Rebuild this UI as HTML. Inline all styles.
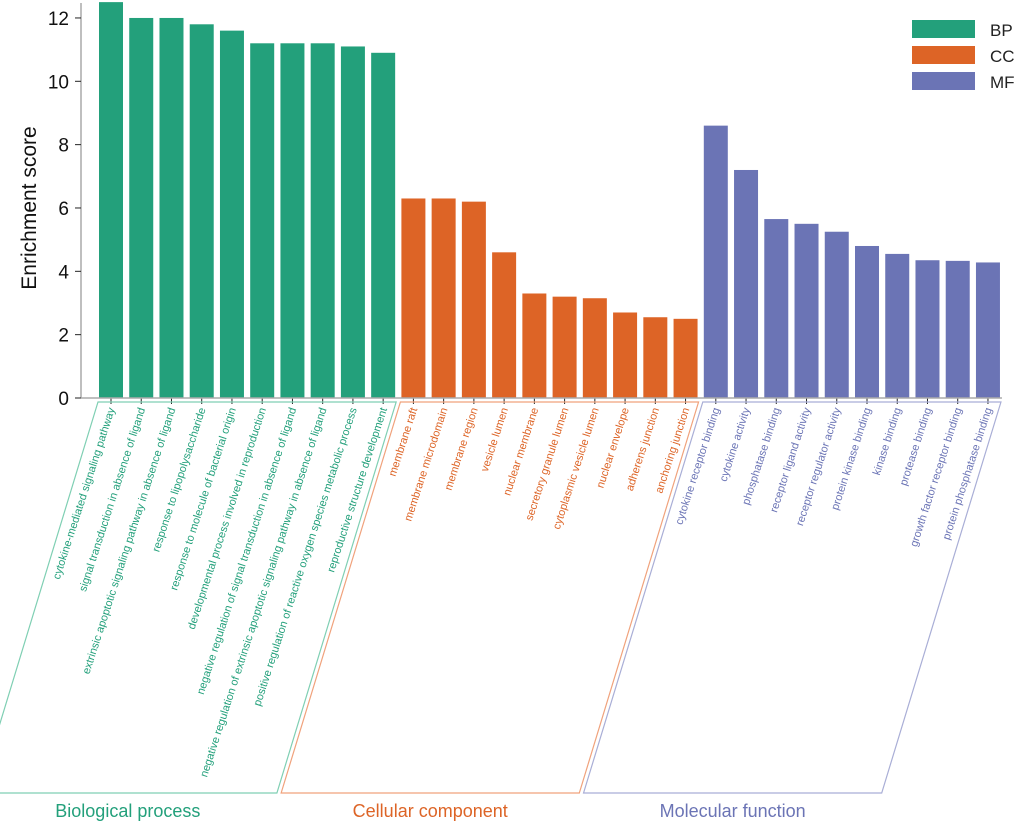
<!DOCTYPE html>
<html><head><meta charset="utf-8"><style>
body{margin:0;background:#fff;}
svg{display:block;font-family:"Liberation Sans",Arial,sans-serif;}
</style></head><body>
<svg id="chart" width="1020" height="825" viewBox="0 0 1020 825">
<g id="bars"></g>
<g id="axes"></g>
<g id="labels"></g>
<g id="groups"></g>
<text x="36" y="208" font-size="21" fill="#111" text-anchor="middle" transform="rotate(-90 36 208)">Enrichment score</text>
<g>
<rect x="912" y="20" width="63" height="18" fill="#23a07b"/>
<text x="990" y="36" font-size="17" fill="#222">BP</text>
<rect x="912" y="46" width="63" height="18" fill="#dd6426"/>
<text x="990" y="62" font-size="17" fill="#222">CC</text>
<rect x="912" y="72" width="63" height="18" fill="#6b74b5"/>
<text x="990" y="88" font-size="17" fill="#222">MF</text>
</g>
</svg>
<script>
const categories = ["cytokine-mediated signaling pathway","signal transduction in absence of ligand","extrinsic apoptotic signaling pathway in absence of ligand","response to lipopolysaccharide","response to molecule of bacterial origin","developmental process involved in reproduction","negative regulation of signal transduction in absence of ligand","negative regulation of extrinsic apoptotic signaling pathway in absence of ligand","positive regulation of reactive oxygen species metabolic process","reproductive structure development",
"membrane raft","membrane microdomain","membrane region","vesicle lumen","nuclear membrane","secretory granule lumen","cytoplasmic vesicle lumen","nuclear envelope","adherens junction","anchoring junction",
"cytokine receptor binding","cytokine activity","phosphatase binding","receptor ligand activity","receptor regulator activity","protein kinase binding","kinase binding","protease binding","growth factor receptor binding","protein phosphatase binding"];
const values = [12.5,12.0,12.0,11.8,11.6,11.2,11.2,11.2,11.1,10.9,
6.3,6.3,6.2,4.6,3.3,3.2,3.15,2.7,2.55,2.5,
8.6,7.2,5.65,5.5,5.25,4.8,4.55,4.35,4.33,4.28];
const groupsOf = ["BP","BP","BP","BP","BP","BP","BP","BP","BP","BP","CC","CC","CC","CC","CC","CC","CC","CC","CC","CC","MF","MF","MF","MF","MF","MF","MF","MF","MF","MF"];
const groupNames = ["Biological process","Cellular component","Molecular function"];
const groupKeys = ["BP","CC","MF"];
const yTicks = [0,2,4,6,8,10,12];

const NS="http://www.w3.org/2000/svg";
const colors={BP:"#23a07b",CC:"#dd6426",MF:"#6b74b5"};
const lineColors={BP:"#7fcfb3",CC:"#f0a27c",MF:"#a9aed6"};
const y0=398, yScale=31.67, x0=81, step=30.24, firstX=99, bw=24;
const y=v=>y0-v*yScale;
const x=i=>firstX+i*step;
function mk(tag,attrs,parent){const e=document.createElementNS(NS,tag);for(const k in attrs)e.setAttribute(k,attrs[k]);parent.appendChild(e);return e;}
const gb=document.getElementById('bars'),ga=document.getElementById('axes'),gl=document.getElementById('labels'),gg=document.getElementById('groups');
values.forEach((v,i)=>{
  const r=mk('rect',{x:x(i),y:y(v),width:bw,height:y0-y(v),fill:colors[groupsOf[i]]},gb);
  
  
  const cx=x(i)+bw/2;
  const t=mk('line',{x1:cx,y1:y0,x2:cx,y2:y0+6,stroke:'#222','stroke-width':1},ga);
  
  
  const tx=mk('text',{x:cx+4,y:y0+11,'font-size':11,fill:colors[groupsOf[i]],'text-anchor':'end',transform:`rotate(-72 ${cx+4} ${y0+11})`},gl);
  tx.textContent=categories[i];
  
  
});
const xa=mk('line',{x1:x0,y1:y0,x2:x(values.length-1)+bw+2,y2:y0,stroke:'#aaa','stroke-width':1.5},ga);


const ya=mk('line',{x1:x0,y1:y0,x2:x0,y2:3,stroke:'#aaa','stroke-width':1.5},ga);


yTicks.forEach(v=>{
  const l=mk('line',{x1:x0-6,y1:y(v),x2:x0,y2:y(v),stroke:'#222','stroke-width':1},ga);
  
  
  const t=mk('text',{x:x0-12,y:y(v)+7,'font-size':19,fill:'#111','text-anchor':'end'},ga);
  t.textContent=v;
  
  
});
const slope=0.305, topY=402, botY=793;
groupKeys.forEach((k,gi)=>{
  const idx=groupsOf.map((g,i)=>g===k?i:-1).filter(i=>i>=0);
  const a=x(idx[0])-1, b=x(idx[idx.length-1])+bw+1;
  const d=(botY-topY)*slope;
  const p=mk('polygon',{points:`${a},${topY} ${b},${topY} ${b-d},${botY} ${a-d},${botY}`,fill:'none',stroke:lineColors[k],'stroke-width':1.2},gg);
  
  
  const t=mk('text',{x:(a+b)/2-d,y:817,'font-size':18,fill:colors[k],'text-anchor':'middle'},gg);
  t.textContent=groupNames[gi];
  
  
});
</script>
</body></html>
